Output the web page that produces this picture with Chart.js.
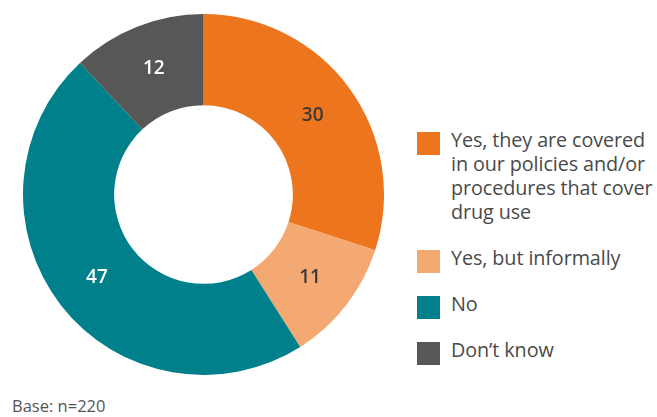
<!DOCTYPE html>
<html>
<head>
<meta charset="utf-8">
<script src="https://cdn.jsdelivr.net/npm/chart.js@4"></script>
<style>
  body { margin: 0; width: 657px; height: 417px; background: #fff; font-family: "Open Sans", sans-serif; overflow: hidden; }
  #donut { position: absolute; left: 23px; top: 14px; width: 361px; height: 361px; }
  #legenda { position: absolute; left: 417px; top: 128px; width: 240px; color: #4a4a4a; font-size: 19.8px; line-height: 24px; letter-spacing: -0.1px; }
  .item { position: relative; padding-left: 34px; margin-bottom: 22px; white-space: nowrap; }
  .quadrado { position: absolute; left: 0; top: 4px; width: 23px; height: 23px; }
  #base { position: absolute; left: 12px; top: 394px; font-size: 16.5px; color: #555; }
</style>
</head>
<body>
<div id="donut"><canvas id="graficoDonut"></canvas></div>
<div id="legenda"></div>
<div id="base">Base: n=220</div>
<script>
// dados
const categorias = [
  "Yes, they are covered in our policies and/or procedures that cover drug use",
  "Yes, but informally",
  "No",
  "Don\u2019t know",
];
const linhasLegenda = [
  ["Yes, they are covered", "in our policies and/or", "procedures that cover", "drug use"],
  ["Yes, but informally"],
  ["No"],
  ["Don\u2019t know"],
];
const valores = [30, 11, 47, 12];
const cores = ["#ED751E", "#F3A971", "#00808A", "#575756"];
const coresRotulo = ["#3a3a3a", "#3a3a3a", "#ffffff", "#ffffff"];

// Escreve o número no meio de cada fatia
const rotulosFatias = {
  id: "rotulosFatias",
  afterDatasetsDraw(chart) {
    const ctx = chart.ctx;
    const meta = chart.getDatasetMeta(0);
    ctx.save();
    ctx.font = "600 19px 'Open Sans', sans-serif";
    ctx.textAlign = "center";
    ctx.textBaseline = "middle";
    meta.data.forEach((arco, i) => {
      const pos = arco.tooltipPosition();
      ctx.fillStyle = coresRotulo[i];
      ctx.fillText(String(valores[i]), pos.x, pos.y);
    });
    ctx.restore();
  },
};

new Chart(document.getElementById("graficoDonut"), {
  type: "doughnut",
  data: {
    labels: categorias,
    datasets: [
      {
        data: valores,
        backgroundColor: cores,
        borderWidth: 0,
      },
    ],
  },
  options: {
    responsive: true,
    maintainAspectRatio: false,
    animation: false,
    cutout: "49.5%",
    plugins: { legend: { display: false }, tooltip: { enabled: false } },
  },
  plugins: [rotulosFatias],
});

// legenda em HTML (texto quebrado em várias linhas como no original)
const legenda = document.getElementById("legenda");
linhasLegenda.forEach((linhas, i) => {
  const item = document.createElement("div");
  item.className = "item";
  const q = document.createElement("span");
  q.className = "quadrado";
  q.style.background = cores[i];
  item.appendChild(q);
  linhas.forEach((linha, j) => {
    if (j > 0) item.appendChild(document.createElement("br"));
    item.appendChild(document.createTextNode(linha));
  });
  legenda.appendChild(item);
});
</script>
</body>
</html>
